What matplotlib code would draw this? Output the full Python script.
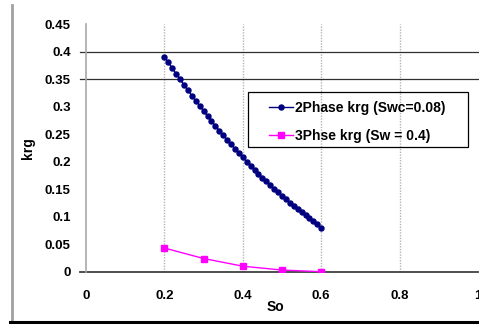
import numpy as np
import matplotlib.pyplot as plt
from matplotlib.lines import Line2D
from matplotlib.patches import Rectangle

plt.rcParams['font.family'] = ['Liberation Sans', 'DejaVu Sans']
plt.rcParams['font.weight'] = 'bold'

# --- данные ---
so_2ph = [0.20, 0.21, 0.22, 0.23, 0.24, 0.25, 0.26, 0.27, 0.28, 0.29,
          0.30, 0.31, 0.32, 0.33, 0.34, 0.35, 0.36, 0.37, 0.38, 0.39,
          0.40, 0.41, 0.42, 0.43, 0.44, 0.45, 0.46, 0.47, 0.48, 0.49,
          0.50, 0.51, 0.52, 0.53, 0.54, 0.55, 0.56, 0.57, 0.58, 0.59, 0.60]
krg_2ph = [0.391, 0.3805, 0.3701, 0.3598, 0.3498, 0.3398, 0.3300, 0.3203, 0.3108, 0.3014,
           0.2922, 0.2831, 0.2742, 0.2654, 0.2567, 0.2482, 0.2398, 0.2316, 0.2235, 0.2156,
           0.2078, 0.2002, 0.1926, 0.1853, 0.1781, 0.1710, 0.1641, 0.1573, 0.1506, 0.1442,
           0.1378, 0.1316, 0.1255, 0.1196, 0.1138, 0.1082, 0.1027, 0.0972, 0.0918, 0.0865, 0.0800]

so_3ph = [0.2, 0.3, 0.4, 0.5, 0.6]
krg_3ph = [0.043, 0.024, 0.010, 0.003, 0.0]

xticks = [0, 0.2, 0.4, 0.6, 0.8, 1]
xticklabels = ['0', '0.2', '0.4', '0.6', '0.8', '1']
yticks = [0, 0.05, 0.1, 0.15, 0.2, 0.25, 0.3, 0.35, 0.4, 0.45]
yticklabels = ['0', '0.05', '0.1', '0.15', '0.2', '0.25', '0.3', '0.35', '0.4', '0.45']

W, H = 479, 324
fig = plt.figure(figsize=(W / 100, H / 100), dpi=100)
ax = fig.add_axes([86 / W, 1 - 271.7 / H, 392 / W, 247.5 / H])

# вертикальная сетка (пунктир)
for xv in [0.2, 0.4, 0.6, 0.8]:
    ax.axvline(xv, color='#b4b4b4', lw=1.0, ls=(0, (1, 1)), zorder=1)

# горизонтальные линии 0.4 и 0.35
for yv in [0.4, 0.35]:
    ax.axhline(yv, xmin=-0.016, xmax=1.0, color='#303030', lw=0.9, clip_on=False, zorder=1)
ax.axhline(0, xmin=-0.016, xmax=1.0, color='#404040', lw=1.3, clip_on=False, zorder=2)

ax.plot(so_2ph, krg_2ph, color='#000080', lw=1.0, marker='o', ms=3.6,
        label='2Phase krg (Swc=0.08)', zorder=3)
ax.plot(so_3ph, krg_3ph, color='#ff00ff', lw=1.0, marker='s', ms=4.5,
        label='3Phse krg (Sw = 0.4)', zorder=3)

ax.set_xlim(0, 1)
ax.set_ylim(0, 0.45)
ax.set_xticks(xticks)
ax.set_xticklabels(xticklabels, fontsize=9.5, fontweight='bold')
ax.set_yticks(yticks)
ax.set_yticklabels(yticklabels, fontsize=9.5, fontweight='bold')
ax.tick_params(length=0, pad=11)
ax.tick_params(axis='x', pad=13)

for s in ['top', 'right', 'bottom']:
    ax.spines[s].set_visible(False)
ax.spines['left'].set_color('#a8a8a8')
ax.spines['left'].set_linewidth(1.2)

ax.set_xlabel('So', fontsize=10, fontweight='bold')
ax.xaxis.set_label_coords((275 - 86) / 392, -0.115)
ax.set_ylabel('krg', fontsize=10, fontweight='bold')
ax.yaxis.set_label_coords(-0.13, 0.5)

# легенда без рамки + отдельная прямоугольная рамка
leg = ax.legend(loc='upper left', bbox_to_anchor=(269 / W, 1 - 101 / H),
                bbox_transform=fig.transFigure, borderaxespad=0, borderpad=0,
                frameon=False, labelspacing=1.0,
                handlelength=1.75, handletextpad=0.1, prop={'weight': 'bold', 'size': 10})
fig.add_artist(Rectangle((248 / W, 1 - 147 / H), 220 / W, 55 / H, transform=fig.transFigure,
                         facecolor='none', edgecolor='black', lw=0.9, zorder=5))

# рамка рисунка: слева серая, снизу чёрная
fig.add_artist(Line2D([12 / W, 12 / W], [2 / H, 319 / H], color='#a0a0a0', lw=2,
                      transform=fig.transFigure))
fig.add_artist(Line2D([10 / W, 1.0], [2.5 / H, 2.5 / H], color='black', lw=2.2,
                      transform=fig.transFigure))

fig.savefig('out.png', dpi=100)
